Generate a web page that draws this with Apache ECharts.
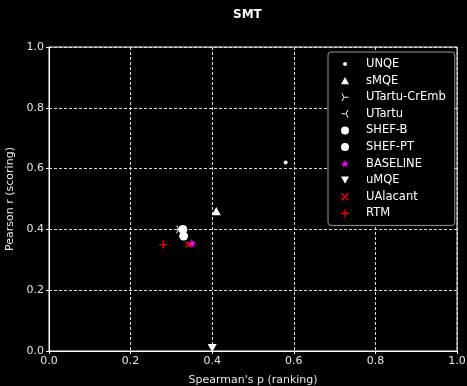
<!DOCTYPE html>
<html><head><meta charset="utf-8">
<script src="https://cdn.jsdelivr.net/npm/echarts@6/dist/echarts.min.js"></script>
<style>html,body{margin:0;padding:0;background:#000;}#c{width:467px;height:386px;}</style>
</head><body><div id="c"></div>
<script>
const systems = ['UNQE','sMQE','UTartu-CrEmb','UTartu','SHEF-B','SHEF-PT','BASELINE','uMQE','UAlacant','RTM'];
const spearman = [0.58, 0.41, 0.32, 0.32, 0.328, 0.330, 0.35, 0.40, 0.342, 0.28];
const pearson  = [0.62, 0.46, 0.40, 0.40, 0.40, 0.378, 0.355, 0.01, 0.35, 0.35];
const xTicks = [0.0, 0.2, 0.4, 0.6, 0.8, 1.0];
const yTicks = [0.0, 0.2, 0.4, 0.6, 0.8, 1.0];

const PLUS = 'path://M4.2,0H5.8V4.2H10V5.8H5.8V10H4.2V5.8H0V4.2H4.2Z';
const XMARK = 'path://M1.13,0L5,3.87L8.87,0L10,1.13L6.13,5L10,8.87L8.87,10L5,6.13L1.13,10L0,8.87L3.87,5L0,1.13Z';
const TRI_R = 'path://M5,4.5L10,4.5L10,5.5L5,5.5Z M5.433,4.75L2.933,0.42L2.067,0.92L4.567,5.25Z M4.567,4.75L2.067,9.08L2.933,9.58L5.433,5.25Z';
const TRI_L = 'path://M5,5.5L0,5.5L0,4.5L5,4.5Z M4.567,5.25L7.067,9.58L7.933,9.08L5.433,4.75Z M5.433,5.25L7.933,0.92L7.067,0.42L4.567,4.75Z';
const STAR = 'path://M5,0L6.18,3.38L9.76,3.45L6.9,5.62L7.94,9.05L5,7L2.06,9.05L3.1,5.62L0.24,3.45L3.82,3.38Z';
const TRI_UP = 'path://M5,0L10,9L0,9Z';
const TRI_DN = 'path://M0,0L10,0L5,9Z';
const SMALLDOT = 'path://M0,0M10,10M5,2.6A2.4,2.4 0 1 1 5,7.4A2.4,2.4 0 1 1 5,2.6Z';

const styles = [
  {symbol:'circle', icon:SMALLDOT, size:4, color:'#fff'},
  {symbol:TRI_UP, icon:TRI_UP, size:9, color:'#fff'},
  {symbol:TRI_R, icon:TRI_R, size:8, color:'#fff'},
  {symbol:TRI_L, icon:TRI_L, size:8, color:'#fff'},
  {symbol:'circle', icon:'circle', size:9, color:'#fff'},
  {symbol:'circle', icon:'circle', size:9, color:'#fff'},
  {symbol:STAR, icon:STAR, size:9, color:'#ff00ff'},
  {symbol:TRI_DN, icon:TRI_DN, size:9, color:'#fff'},
  {symbol:XMARK, icon:XMARK, size:7, color:'#ff0000'},
  {symbol:PLUS, icon:PLUS, size:8, color:'#ff0000'}
];

const series = systems.map((name, i) => ({
  name: name,
  type: 'scatter',
  data: [[spearman[i], pearson[i]]],
  symbol: styles[i].symbol,
  symbolSize: styles[i].size,
  symbolKeepAspect: true,
  itemStyle: {color: styles[i].color, opacity: 1},
  emphasis: {disabled: true},
  z: 3
}));

const chart = echarts.init(document.getElementById('c'), null, {renderer:'canvas'});
const labelColor = '#e6e6e6';
const font = 'DejaVu Sans';
chart.setOption({
  backgroundColor: '#000',
  animation: false,
  textStyle: {fontFamily: font},
  title: {
    text: 'SMT', left: 228, top: 4,
    textStyle: {color: '#fff', fontSize: 12, fontWeight: 'bold', fontFamily: font}
  },
  grid: {left: 49, right: 10, top: 47, bottom: 35, containLabel: false, outerBoundsMode: 'none',
    show: true, borderColor: '#fff', borderWidth: 1, backgroundColor: 'transparent'},
  xAxis: {
    type: 'value', min: xTicks[0], max: xTicks[xTicks.length-1], interval: 0.2,
    name: "Spearman's p (ranking)", nameLocation: 'middle', nameGap: 24,
    nameTextStyle: {color: labelColor, fontSize: 11, fontFamily: font},
    axisLine: {show: true, lineStyle: {color: '#fff', width: 1}},
    axisTick: {show: true, length: 3, lineStyle: {color: '#fff'}},
    axisLabel: {color: labelColor, fontSize: 11, margin: 5, fontFamily: font, formatter: v => v.toFixed(1)},
    splitLine: {show: true, lineStyle: {color: '#ddd', type: [3, 2], width: 1}}
  },
  yAxis: {
    type: 'value', min: yTicks[0], max: yTicks[yTicks.length-1], interval: 0.2,
    name: 'Pearson r (scoring)', nameLocation: 'middle', nameGap: 32, nameRotate: 90,
    nameTextStyle: {color: labelColor, fontSize: 11, fontFamily: font},
    axisLine: {show: true, lineStyle: {color: '#fff', width: 1}},
    axisTick: {show: true, length: 3, lineStyle: {color: '#fff'}},
    axisLabel: {color: labelColor, fontSize: 11, margin: 5, fontFamily: font, formatter: v => v.toFixed(1)},
    splitLine: {show: true, lineStyle: {color: '#ddd', type: [3, 2], width: 1}}
  },
  legend: {
    orient: 'vertical', left: 328, top: 52,
    padding: [6, 9, 6, 13],
    itemWidth: 8, itemHeight: 8, itemGap: 4.6,
    backgroundColor: '#000', borderColor: '#999', borderWidth: 1, borderRadius: 3,
    textStyle: {color: '#fff', fontSize: 11.5, fontFamily: font, padding: [0, 0, 0, 12]},
    selectedMode: false,
    data: systems.map((name, i) => ({name: name, icon: styles[i].icon, itemStyle: {color: styles[i].color}}))
  },
  series: series
});
</script>
</body></html>
